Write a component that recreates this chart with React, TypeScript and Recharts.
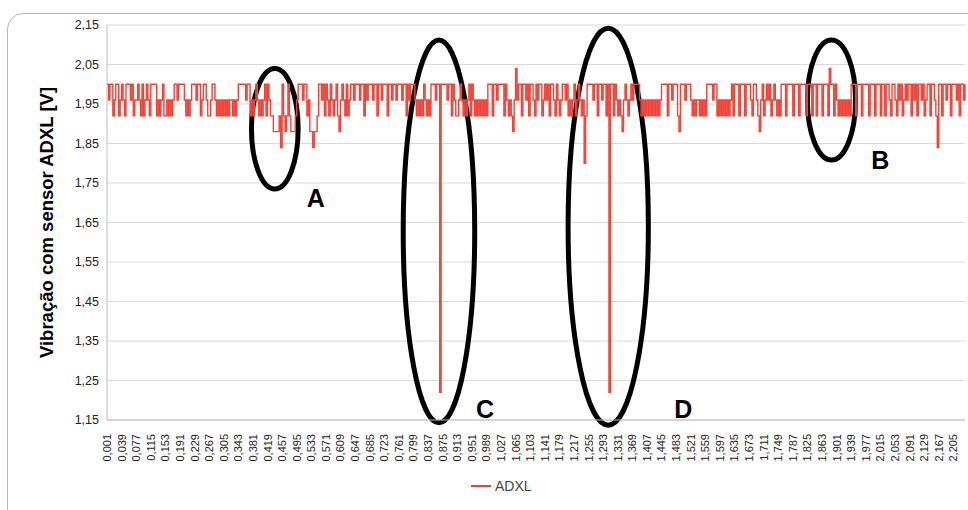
import { LineChart, Line, XAxis, YAxis, CartesianGrid, Legend, ReferenceArea, ReferenceDot } from "recharts"

// ADXL samples, one string per x-axis label interval (10 samples each)
// m=1.96 u=2.00 d=1.92 p=2.04 l=1.88 k=1.84 j=1.80 z=1.22
const adxlChunks = [
  "umuudmuudm", "umduuumudm", "mumdudmumd", "uuuudmdmud", "dmdmdmuumu",
  "uuumdmdmuu", "umuudmuumd", "dmuumdmdmd", "mdmdmmdmdm", "uuuuumuudm",
  "dmumdmdmud", "umddlllldk", "udldudllld", "muuumuudml", "lkllduumud",
  "umdumdmudl", "mumdudmuum", "uuumuudumu", "uumuuduumu", "uuduumuumu",
  "uumuudumuu", "umdmdmdumd", "mduuumuuzu", "uuumuudumd", "dmumdmdmud",
  "umdmdmdmdm", "duuuduumuu", "uudumdmdlm", "pmuuduumud", "uumdumuudm",
  "umuduumdum", "dmuumudmdm", "udmumdmjdu", "uuumuuduum", "uuduzuudum",
  "dmdlmumdmu", "muuuumdmdm", "dmdmdmdmdm", "uuuuduumuu", "udluuumuuu",
  "mdmdmmdmdm", "duuuumuudm", "dmdmdmdmud", "uuuduuuduu", "umduumdlmu",
  "dmumudmumd", "mduuuduuuu", "duuuduuuud", "uuuduuduuu", "duuudpuudu",
  "mdmdmdmdmd", "uuuduuuduu", "uuduuuduuu", "duuduumduu", "mdumudmumu",
  "udumuduumu", "dmuuduumdk", "uuduumuudu", "uumuduumu",
]

const levelByCode: Record<string, number> = {
  m: 1.96, u: 2.0, d: 1.92, p: 2.04, l: 1.88, k: 1.84, j: 1.8, z: 1.22,
}

const firstTime = 0.001
const sampleStep = 0.0038
const yTicks = [1.15, 1.25, 1.35, 1.45, 1.55, 1.65, 1.75, 1.85, 1.95, 2.05, 2.15]

// circled regions (sample index range, value range)
const rings = [
  { name: "A", from: 99, to: 131, top: 2.04, bottom: 1.735 },
  { name: "C", from: 203, to: 252, top: 2.112, bottom: 1.143 },
  { name: "D", from: 316, to: 371, top: 2.142, bottom: 1.137 },
  { name: "B", from: 480, to: 513, top: 2.112, bottom: 1.808 },
]
const ringLetters = [
  { name: "A", at: 143, value: 1.712 },
  { name: "B", at: 530, value: 1.808 },
  { name: "C", at: 259, value: 1.177 },
  { name: "D", at: 395, value: 1.177 },
]

const comma = (v: number, d: number) => v.toFixed(d).replace(".", ",")

const samples = adxlChunks.join("").split("")
const data = samples.map((c, i) => ({
  t: comma(firstTime + i * sampleStep, 3),
  adxl: levelByCode[c],
}))

const font = "'Liberation Sans', Arial, sans-serif"

const XTick = ({ x, y, payload }: any) => (
  <text
    x={x}
    y={y + 6}
    transform={`rotate(-90, ${x}, ${y + 6})`}
    textAnchor="end"
    dominantBaseline="central"
    fontSize={11}
    fontFamily={font}
    fill="#222"
  >
    {payload.value}
  </text>
)

const YLabel = ({ viewBox }: any) => {
  const cy = viewBox.y + viewBox.height / 2
  return (
    <text
      x={46}
      y={cy}
      transform={`rotate(-90, 46, ${cy})`}
      textAnchor="middle"
      dominantBaseline="central"
      fontSize={18.5}
      fontWeight="bold"
      fontFamily={font}
      fill="#000"
    >
      Vibração com sensor ADXL [V]
    </text>
  )
}

const Ring = ({ x, y, width, height }: any) => (
  <ellipse
    cx={x + width / 2}
    cy={y + height / 2}
    rx={Math.abs(width) / 2}
    ry={Math.abs(height) / 2}
    fill="none"
    stroke="#000"
    strokeWidth={5}
  />
)

const letterShape = (name: string) => ({ cx, cy }: any) => (
  <text
    x={cx}
    y={cy}
    textAnchor="middle"
    dominantBaseline="central"
    fontSize={25}
    fontWeight="bold"
    fontFamily={font}
    fill="#000"
  >
    {name}
  </text>
)

const LegendBox = () => (
  <div style={{ display: "flex", alignItems: "center", fontFamily: font, fontSize: 14, color: "#444" }}>
    <svg width={22} height={6} style={{ marginRight: 3 }}>
      <line x1={1} y1={3} x2={21} y2={3} stroke="#ee4136" strokeWidth={2} />
    </svg>
    <span>ADXL</span>
  </div>
)

export default function App() {
  return (
    <div style={{ position: "absolute", left: 0, top: 0, width: 968, height: 510, overflow: "hidden", background: "#fff" }}>
      <div
        style={{
          position: "absolute",
          left: 7,
          top: 13,
          width: 1000,
          height: 530,
          border: "1.5px solid #b8b8b8",
          borderRadius: 16,
        }}
      />
      <div style={{ position: "absolute", left: 0, top: 0 }}>
        <LineChart width={968} height={510} data={data} margin={{ top: 25, right: 3, left: 0, bottom: 10 }}>
          <CartesianGrid vertical={false} stroke="#d9d9d9" />
          <XAxis
            dataKey="t"
            interval={9}
            height={60}
            tickLine={false}
            axisLine={{ stroke: "#bdbdbd" }}
            tick={<XTick />}
          />
          <YAxis
            domain={[1.15, 2.15]}
            ticks={yTicks}
            width={107}
            tickLine={false}
            axisLine={{ stroke: "#bdbdbd" }}
            tickFormatter={(v) => comma(v, 2)}
            tick={{ fontSize: 12.5, fontFamily: font, fill: "#222" }}
            label={<YLabel />}
          />
          <Legend verticalAlign="bottom" height={20} content={<LegendBox />} wrapperStyle={{ left: 470, width: 120, bottom: 12 }} />
          <Line
            type="stepAfter"
            dataKey="adxl"
            name="ADXL"
            stroke="#ef4338"
            strokeWidth={1.4}
            dot={false}
            isAnimationActive={false}
          />
          {rings.map((r) => (
            <ReferenceArea
              key={r.name}
              x1={data[r.from].t}
              x2={data[r.to].t}
              y1={r.bottom}
              y2={r.top}
              ifOverflow="visible"
              shape={<Ring />}
            />
          ))}
          {ringLetters.map((l) => (
            <ReferenceDot
              key={l.name}
              x={data[l.at].t}
              y={l.value}
              r={0}
              ifOverflow="visible"
              shape={letterShape(l.name)}
            />
          ))}
        </LineChart>
      </div>
    </div>
  )
}
